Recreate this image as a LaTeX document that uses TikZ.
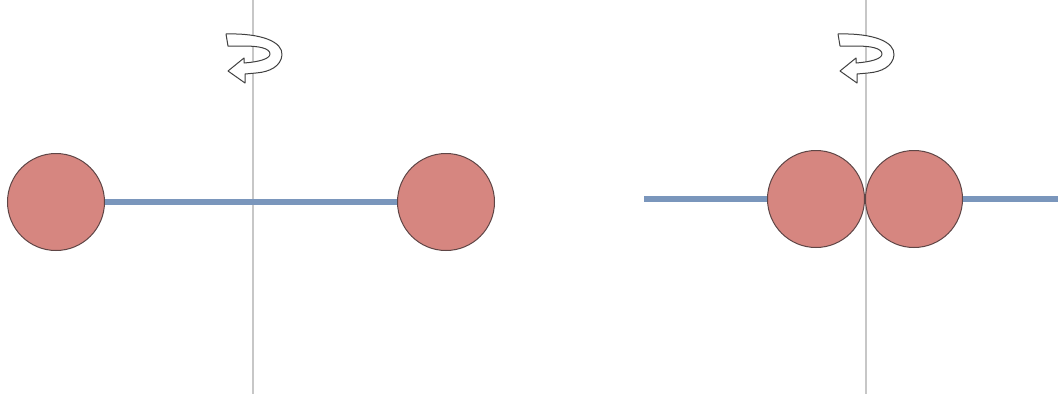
\documentclass[tikz,border=0pt]{standalone}
\begin{document}
\begin{tikzpicture}[x=1pt,y=-1pt,
  axisline/.style={draw=black!22,line width=1.4pt},
  rod/.style={draw=rodc,line width=6pt},
  ball/.style={circle,draw=ballb,line width=1pt,fill=ballc,minimum size=97pt,inner sep=0pt},
  turn/.style={draw=black!75,line width=1pt,fill=white,line join=round}]
\definecolor{rodc}{RGB}{122,150,188}
\definecolor{ballc}{RGB}{214,134,128}
\definecolor{ballb}{RGB}{95,70,70}
\useasboundingbox (0,0) rectangle (1058,394);
% axes
\coordinate (a1t) at (253,0); \coordinate (a1b) at (253,394);
\coordinate (a2t) at (866,0); \coordinate (a2b) at (866,394);
\draw[axisline] (a1t) -- (a1b);
\draw[axisline] (a2t) -- (a2b);
% left system
\node[ball] (b1) at (56,202) {};
\node[ball] (b2) at (446,202) {};
\draw[rod] (b1.east) -- (b2.west);
% right system
\coordinate (r1) at (644,199);
\coordinate (r2) at (1058,199);
\node[ball] (b3) at (816,199) {};
\node[ball] (b4) at (914,199) {};
\draw[rod] (r1) -- (b3.west);
\draw[rod] (b4.east) -- (r2);
% rotation arrows
\foreach \s in {0,612}{
\begin{scope}[xshift=\s]
\draw[turn] (226,34) .. controls (262,33) and (283,42) .. (282,55)
  .. controls (281,66) and (270,72) .. (256,73)
  -- (245,74) -- (245,83) -- (228,71) -- (244,58) -- (244,63)
  .. controls (258,62) and (270,59) .. (270,54)
  .. controls (270,48) and (258,46) .. (244,46)
  -- (228,46) -- cycle;
\end{scope}}
\end{tikzpicture}
\end{document}
